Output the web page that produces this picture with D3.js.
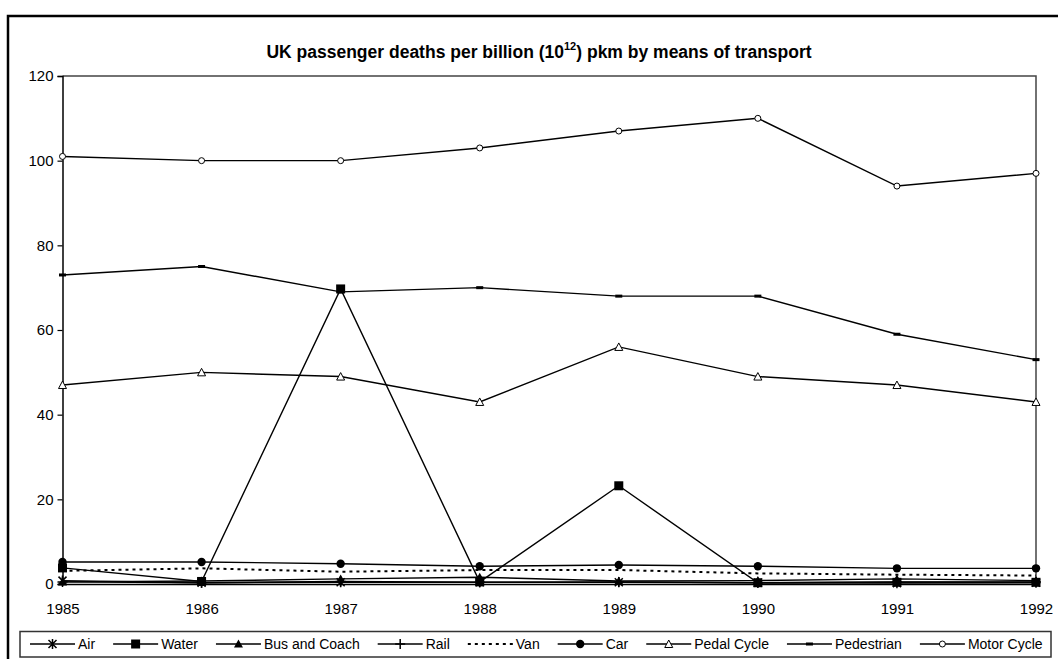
<!DOCTYPE html>
<html>
<head>
<meta charset="utf-8">
<script src="https://cdn.jsdelivr.net/npm/d3@7/dist/d3.min.js"></script>
<style>
  html, body { margin: 0; padding: 0; background: #fff; }
  svg { display: block; }
  text { font-family: "Liberation Sans", Arial, sans-serif; fill: #000; }
</style>
</head>
<body>
<svg id="chart" width="1058" height="659"></svg>
<script>
// ---- data ----
const years = [1985, 1986, 1987, 1988, 1989, 1990, 1991, 1992];
const yTicks = [0, 20, 40, 60, 80, 100, 120];
const seriesNames = ["Air", "Water", "Bus and Coach", "Rail", "Van", "Car", "Pedal Cycle", "Pedestrian", "Motor Cycle"];
const air        = [0.8, 0.3, 0.4, 0.4, 0.4, 0.3, 0.2, 0.3];
const water      = [3.8, 0.6, 69.7, 0.5, 23.2, 0.3, 0.4, 0.4];
const busCoach   = [0.5, 0.7, 1.2, 1.6, 0.7, 0.8, 1.2, 0.8];
const rail       = [0.5, 0.3, 0.6, 0.4, 0.5, 0.3, 0.5, 0.5];
const van        = [3.1, 3.7, 2.9, 3.3, 3.3, 2.5, 2.2, 2.0];
const car        = [5.2, 5.2, 4.8, 4.2, 4.5, 4.2, 3.7, 3.7];
const pedalCycle = [47, 50, 49, 43, 56, 49, 47, 43];
const pedestrian = [73, 75, 69, 70, 68, 68, 59, 53];
const motorCycle = [101, 100, 100, 103, 107, 110, 94, 97];
const seriesValues = [air, water, busCoach, rail, van, car, pedalCycle, pedestrian, motorCycle];
const markers = ["asterisk", "square", "triangleFilled", "plus", "none", "circleFilled", "triangleOpen", "dash", "circleOpen"];
const titleMain = "UK passenger deaths per billion (10";
const titleSup = "12";
const titleEnd = ") pkm by means of transport";

// ---- layout ----
const svg = d3.select("#chart");
const plot = { left: 62.5, right: 1036, top: 76, bottom: 584 };

const x = d3.scalePoint().domain(years).range([plot.left, plot.right]);
const y = d3.scaleLinear().domain([0, 120]).range([plot.bottom, plot.top]);

// outer chart border
svg.append("path")
  .attr("d", "M8,1070 L8,16 L1070,16")
  .attr("fill", "none").attr("stroke", "#000").attr("stroke-width", 2.5);

// title
const title = svg.append("text")
  .attr("x", 539).attr("y", 58)
  .attr("text-anchor", "middle")
  .style("font-size", "17.5px").style("font-weight", "bold");
title.append("tspan").text(titleMain);
title.append("tspan").attr("dy", -8).style("font-size", "11px").text(titleSup);
title.append("tspan").attr("dy", 8).text(titleEnd);

// plot frame (top and right)
svg.append("path")
  .attr("d", `M${plot.left},${plot.top} L${plot.right},${plot.top} L${plot.right},${plot.bottom}`)
  .attr("fill", "none").attr("stroke", "#444").attr("stroke-width", 1.5);

// y axis
const yAxis = d3.axisLeft(y).tickValues(yTicks).tickSize(5).tickPadding(4).tickFormat(d3.format("d"));
const gy = svg.append("g").attr("transform", `translate(${plot.left},0)`).call(yAxis);
gy.select(".domain").attr("stroke", "#000").attr("stroke-width", 1.5);
gy.selectAll(".tick line").attr("stroke", "#000").attr("stroke-width", 1.2);
gy.selectAll(".tick text").style("font-size", "15px").style("font-family", "'Liberation Sans', Arial, sans-serif");

// x axis
const xAxis = d3.axisBottom(x).tickSize(0).tickPadding(19).tickFormat(d3.format("d"));
const gx = svg.append("g").attr("transform", `translate(0,${plot.bottom})`).call(xAxis);
gx.select(".domain").attr("stroke", "#000").attr("stroke-width", 1.5);
gx.selectAll(".tick text").style("font-size", "15px").style("font-family", "'Liberation Sans', Arial, sans-serif");

// marker drawing
function drawMarker(g, type) {
  switch (type) {
    case "asterisk":
      g.append("path").attr("d", "M-4,-4L4,4M-4,4L4,-4M0,-5L0,5")
        .attr("stroke", "#000").attr("stroke-width", 1.5).attr("fill", "none");
      break;
    case "square":
      g.append("rect").attr("x", -4.5).attr("y", -4.5).attr("width", 9).attr("height", 9).attr("fill", "#000");
      break;
    case "triangleFilled":
      g.append("path").attr("d", "M0,-4.5L4.5,3.5L-4.5,3.5Z").attr("fill", "#000");
      break;
    case "plus":
      g.append("path").attr("d", "M-5,0L5,0M0,-5L0,5")
        .attr("stroke", "#000").attr("stroke-width", 1.5).attr("fill", "none");
      break;
    case "circleFilled":
      g.append("circle").attr("r", 4.2).attr("fill", "#000");
      break;
    case "triangleOpen":
      g.append("path").attr("d", "M0,-4L4,3.5L-4,3.5Z").attr("fill", "#fff").attr("stroke", "#000").attr("stroke-width", 1);
      break;
    case "dash":
      g.append("rect").attr("x", -3.5).attr("y", -1.5).attr("width", 7).attr("height", 3).attr("fill", "#000");
      break;
    case "circleOpen":
      g.append("circle").attr("r", 3).attr("fill", "#fff").attr("stroke", "#000").attr("stroke-width", 1);
      break;
  }
}

const line = d3.line().x((d, i) => x(years[i])).y(d => y(d));

// series
seriesNames.forEach((name, si) => {
  const vals = seriesValues[si];
  const g = svg.append("g").attr("class", "series");
  g.append("path")
    .attr("d", line(vals))
    .attr("fill", "none")
    .attr("stroke", "#000")
    .attr("stroke-width", markers[si] === "none" ? 2 : 1.4)
    .attr("stroke-dasharray", markers[si] === "none" ? "3,4" : null);
  if (markers[si] !== "none") {
    vals.forEach((v, i) => {
      const mg = g.append("g").attr("transform", `translate(${x(years[i])},${y(v)})`);
      drawMarker(mg, markers[si]);
    });
  }
});

// legend
const legY = 644;
svg.append("rect")
  .attr("x", 20).attr("y", 631.5).attr("width", 1031).attr("height", 25.5)
  .attr("fill", "#fff").attr("stroke", "#333").attr("stroke-width", 1.5);

let lx = 30;
const lineLen = 45, textGap = 3, itemGap = 18;
seriesNames.forEach((name, si) => {
  const g = svg.append("g");
  g.append("line")
    .attr("x1", lx).attr("x2", lx + lineLen).attr("y1", legY).attr("y2", legY)
    .attr("stroke", "#000")
    .attr("stroke-width", markers[si] === "none" ? 2 : 1.3)
    .attr("stroke-dasharray", markers[si] === "none" ? "3,4" : null);
  if (markers[si] !== "none") {
    const mg = g.append("g").attr("transform", `translate(${lx + lineLen / 2},${legY})`);
    drawMarker(mg, markers[si]);
  }
  const t = g.append("text")
    .attr("x", lx + lineLen + textGap).attr("y", legY + 5)
    .style("font-size", "14px").text(name);
  lx += lineLen + textGap + t.node().getComputedTextLength() + itemGap;
});
</script>
</body>
</html>
